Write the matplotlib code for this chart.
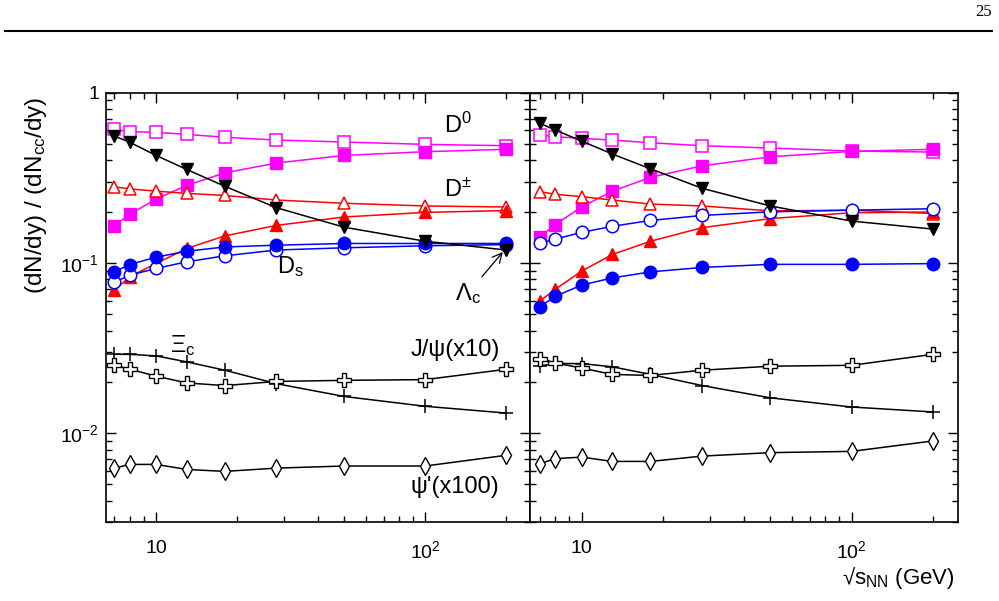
import numpy as np
import matplotlib
matplotlib.use("Agg")
import matplotlib.pyplot as plt
from matplotlib.lines import Line2D
from matplotlib.ticker import FixedLocator, FixedFormatter, LogLocator, NullFormatter

plt.rcParams['font.family'] = ['Liberation Sans', 'DejaVu Sans']
plt.rcParams['mathtext.default'] = 'regular'

# collision energies (GeV)
sqrt_s = [7, 8, 10, 13, 18, 28, 50, 100, 200]

# left panel
d0_open_L = [0.609, 0.590, 0.585, 0.569, 0.547, 0.527, 0.513, 0.497, 0.488]
d0_fill_L = [0.165, 0.193, 0.237, 0.285, 0.338, 0.386, 0.428, 0.450, 0.465]
dpm_open_L = [0.280, 0.272, 0.264, 0.256, 0.249, 0.234, 0.224, 0.216, 0.213]
dpm_fill_L = [0.069, 0.083, 0.099, 0.1215, 0.144, 0.166, 0.186, 0.198, 0.203]
lc_L = [0.556, 0.511, 0.428, 0.354, 0.282, 0.211, 0.162, 0.134, 0.119]
ds_fill_L = [0.0885, 0.0978, 0.108, 0.117, 0.124, 0.127, 0.130, 0.130, 0.130]
ds_open_L = [0.0769, 0.0847, 0.0927, 0.1014, 0.110, 0.119, 0.1226, 0.126, 0.128]
xic_L = [0.0290, 0.0290, 0.0284, 0.0262, 0.0234, 0.0195, 0.0164, 0.01436, 0.0131]
jpsi_L = [0.0250, 0.0237, 0.0216, 0.0197, 0.0190, 0.0201, 0.0204, 0.0206, 0.0237]
psi2_L = [0.00622, 0.00654, 0.00654, 0.00611, 0.00595, 0.00622, 0.00640, 0.00640, 0.00740]

# right panel
d0_open_R = [0.564, 0.551, 0.539, 0.527, 0.508, 0.488, 0.473, 0.454, 0.448]
d0_fill_R = [0.142, 0.168, 0.213, 0.264, 0.318, 0.372, 0.420, 0.452, 0.465]
dpm_open_R = [0.262, 0.253, 0.245, 0.234, 0.2215, 0.216, 0.202, 0.204, 0.195]
dpm_fill_R = [0.0596, 0.070, 0.0894, 0.112, 0.134, 0.161, 0.182, 0.197, 0.199]
lc_R = [0.661, 0.603, 0.520, 0.436, 0.357, 0.274, 0.216, 0.176, 0.158]
ds_fill_R = [0.0551, 0.0637, 0.074, 0.0816, 0.0885, 0.094, 0.098, 0.098, 0.099]
ds_open_R = [0.130, 0.138, 0.151, 0.164, 0.1775, 0.190, 0.1995, 0.204, 0.208]
xic_R = [0.0248, 0.0256, 0.0256, 0.0245, 0.0221, 0.0190, 0.0161, 0.01422, 0.0133]
jpsi_R = [0.0274, 0.0258, 0.0241, 0.0221, 0.0218, 0.0234, 0.0247, 0.0250, 0.0290]
psi2_R = [0.0066, 0.00707, 0.00722, 0.00681, 0.00681, 0.00732, 0.00767, 0.0078, 0.00898]

MAG = '#ff00ff'
RED = '#ff0000'
BLU = '#0000ff'


def draw_panel(ax, d0o, d0f, dpo, dpf, lc, dsf, dso, xic, jpsi, psi2):
    lw = 1.1
    ax.plot(sqrt_s, d0o, '-s', color=MAG, mfc='white', mec=MAG, ms=8.5, mew=1.1, lw=lw)
    ax.plot(sqrt_s, d0f, '-s', color=MAG, ms=8.5, lw=lw)
    ax.plot(sqrt_s, dpo, '-^', color=RED, mfc='white', mec=RED, ms=9, mew=1.1, lw=lw)
    ax.plot(sqrt_s, dpf, '-^', color=RED, ms=8, lw=lw)
    ax.plot(sqrt_s, dso, '-o', color=BLU, mfc='white', mec=BLU, ms=9, mew=1.1, lw=lw)
    ax.plot(sqrt_s, dsf, '-o', color=BLU, ms=9, lw=lw)
    ax.plot(sqrt_s, lc, '-v', color='black', ms=8, lw=lw)
    ax.plot(sqrt_s, xic, '-+', color='black', ms=10, mew=1.1, lw=lw)
    ax.plot(sqrt_s, jpsi, '-P', color='black', mfc='white', mec='black', ms=9.5, mew=1.0, lw=lw)
    ax.plot(sqrt_s, psi2, '-d', color='black', mfc='white', mec='black', ms=9, mew=1.0, lw=lw)

    ax.set_xscale('log')
    ax.set_yscale('log')
    ax.set_ylim(0.003, 1)
    ax.xaxis.set_major_locator(FixedLocator([10, 100]))
    ax.xaxis.set_major_formatter(FixedFormatter(['10', '$10^{2}$']))
    ax.xaxis.set_minor_locator(LogLocator(base=10, subs=np.arange(2, 10)))
    ax.xaxis.set_minor_formatter(NullFormatter())
    ax.yaxis.set_minor_locator(LogLocator(base=10, subs=np.arange(2, 10)))
    ax.yaxis.set_minor_formatter(NullFormatter())
    ax.tick_params(which='both', direction='in', top=True, right=True, left=True, width=1.0)
    ax.tick_params(which='major', length=7)
    ax.tick_params(which='minor', length=4)
    ax.tick_params(axis='x', which='major', pad=13, labelsize=14)
    for s in ax.spines.values():
        s.set_linewidth(1.2)


fig = plt.figure(figsize=(9.99, 6.01), dpi=100)
bottom = 1 - 522 / 601
height = (522 - 92.7) / 601
axL = fig.add_axes([106 / 999, bottom, (530 - 106) / 999, height])
axR = fig.add_axes([530 / 999, bottom, (958 - 530) / 999, height])

draw_panel(axL, d0_open_L, d0_fill_L, dpm_open_L, dpm_fill_L, lc_L,
           ds_fill_L, ds_open_L, xic_L, jpsi_L, psi2_L)
draw_panel(axR, d0_open_R, d0_fill_R, dpm_open_R, dpm_fill_R, lc_R,
           ds_fill_R, ds_open_R, xic_R, jpsi_R, psi2_R)

axL.set_xlim(6.52, 245)
axR.set_xlim(6.44, 248)

axL.yaxis.set_major_locator(FixedLocator([0.01, 0.1, 1]))
axL.yaxis.set_major_formatter(FixedFormatter(['$10^{-2}$', '$10^{-1}$', '1']))
axL.tick_params(axis='y', which='major', labelsize=14, pad=5)
axR.yaxis.set_major_locator(FixedLocator([0.01, 0.1, 1]))
axR.tick_params(axis='y', labelleft=False)

# species labels
fs = 17
axL.text(0.83, 0.925, '$D^{0}$', transform=axL.transAxes, fontsize=fs, ha='center', va='center')
axL.text(0.83, 0.773, '$D^{\\pm}$', transform=axL.transAxes, fontsize=fs, ha='center', va='center')
axL.text(0.434, 0.594, '$D_{s}$', transform=axL.transAxes, fontsize=fs, ha='center', va='center')
axL.text(0.182, 0.412, '$\\Xi_{c}$', transform=axL.transAxes, fontsize=fs, ha='center', va='center')
axL.text(0.823, 0.401, 'J/\u03c8(x10)', transform=axL.transAxes, fontsize=fs, ha='center', va='center')
axL.text(0.823, 0.0815, "\u03c8'(x100)", transform=axL.transAxes, fontsize=fs, ha='center', va='center')
axL.annotate('$\\Lambda_{c}$', xy=(0.936, 0.629), xytext=(0.854, 0.533),
             xycoords='axes fraction', textcoords='axes fraction',
             fontsize=fs, ha='center', va='center',
             arrowprops=dict(arrowstyle='->', color='black', lw=0.9, shrinkA=1, shrinkB=0))

fig.text(36 / 999, 1 - 195 / 601, '(dN/dy) / (dN$_{cc}$/dy)', rotation=90,
         ha='center', va='center', fontsize=17.5)
fig.text(898 / 999, 1 - 578 / 601, '\u221as$_{NN}$ (GeV)', ha='center', va='center', fontsize=16)

# page header
fig.text(992 / 999, 1 - 12 / 601, '25', ha='right', va='center',
         family='Liberation Serif', fontsize=12)
fig.add_artist(Line2D([5 / 999, 992 / 999], [1 - 30.7 / 601] * 2, color='black', lw=1.5))

fig.savefig('out.png', dpi=100)
